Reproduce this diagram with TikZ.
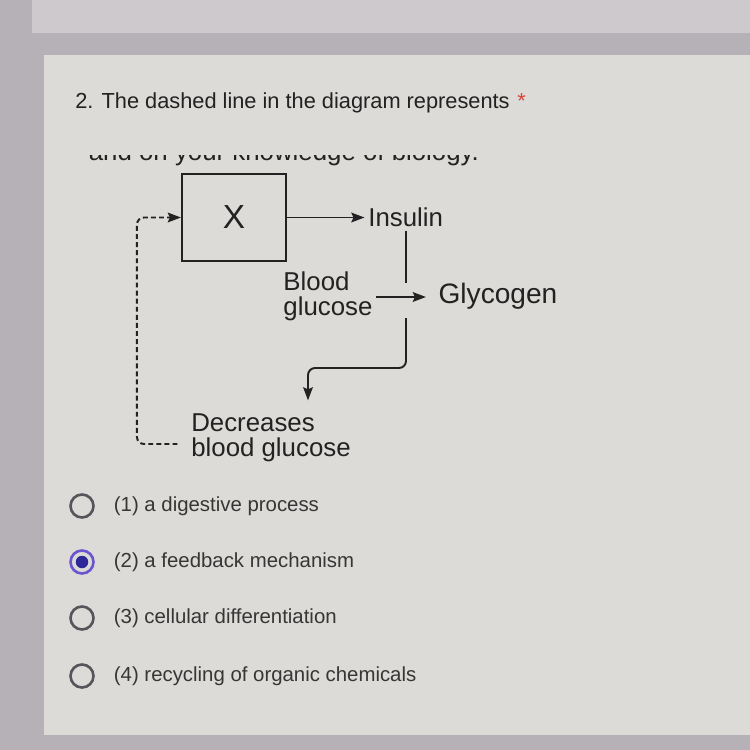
\documentclass[tikz,border=0pt]{standalone}
\usepackage{fontspec}
\setmainfont{Liberation Sans}
\usetikzlibrary{arrows.meta,positioning,calc}

\definecolor{screen}{HTML}{B6B1B7}
\definecolor{topcard}{HTML}{CDC9CC}
\definecolor{card}{HTML}{DCDBD8}
\definecolor{ink}{HTML}{222222}
\definecolor{optink}{HTML}{363636}
\definecolor{reqred}{HTML}{D8433A}
\definecolor{radiogray}{HTML}{56555A}
\definecolor{radioring}{HTML}{6B55CF}
\definecolor{radiodot}{HTML}{2E2899}

\begin{document}
\begin{tikzpicture}[x=0.02cm, y=-0.02cm,
    % Text styles
    title/.style={anchor=base west, inner sep=0pt, text=ink,
                  font=\fontsize{12.4}{14}\selectfont},
    required/.style={anchor=north west, inner sep=0pt, text=reqred,
                     font=\fontsize{12.4}{14}\selectfont},
    term/.style={inner sep=2pt, text=ink, align=left,
                 font=\fontsize{14.7}{14.2}\selectfont},
    option/.style={inner sep=1pt, text=optink,
                   font=\fontsize{11.6}{13}\selectfont},
    % Diagram styles
    gland/.style={rectangle, draw=ink, line width=1.2pt, minimum width=2.08cm,
                  minimum height=1.74cm, text=ink, font=\fontsize{19}{19}\selectfont},
    link/.style={line width=1.1pt, draw=ink},
    arrow/.style={link, -{Stealth[length=7.5pt, width=5.5pt, inset=1.2pt]}},
    feedback/.style={arrow, dash pattern=on 2.8pt off 1.8pt, rounded corners=4pt},
    % Radio buttons
    radio/.style={circle, draw=radiogray, line width=1.5pt, minimum size=0.46cm, inner sep=0pt},
    checked/.style={radio, draw=radioring},
    dot/.style={circle, fill=radiodot, minimum size=0.25cm, inner sep=0pt}
]

\useasboundingbox (0,0) rectangle (750,750);

% Screen and cards
\fill[screen] (0,0) rectangle (750,750);
\fill[topcard] (32,0) rectangle (750,33);
\fill[card] (44,55) rectangle (750,735);

% Question
\node[title] (question) at (75,109) {2. The dashed line in the diagram represents};
\node[required] (star) at ([xshift=4pt]question.north east) {*};

% Line of the image that is cut off
\begin{scope}
  \clip (80,155) rectangle (530,170);
  \node[term, anchor=base west] (hidden) at (85,160) {and on your knowledge of biology.};
\end{scope}

% 1. Gland X
\node[gland] (boxX) at (234,217.5) {X};

% 2. Insulin
\node[term, right=1.55cm of boxX] (insulin) {Insulin};

% 3. Blood glucose -> Glycogen
\node[term] (blood) at (328,296) {Blood\\glucose};
\node[term, font=\fontsize{16}{16}\selectfont] (glycogen) at (498,296) {Glycogen};

% 4. Result
\node[term] (decreases) at (271,438) {Decreases\\blood glucose};

% Junction points
\coordinate (junc) at (406,297);
\coordinate (elbow) at (308,368);
\coordinate (fbstart) at ($(decreases.west)+(-10,6)$);

% Main flow
\draw[arrow] (boxX.east) -- (boxX.east -| insulin.west);
\draw[link] (insulin.south -| junc) -- ($(junc)+(0,-14)$);
\draw[arrow, shorten >=5pt] (blood.east |- junc) -- (glycogen.west |- junc);
\draw[arrow, rounded corners=4pt, shorten >=5.5pt] ($(junc)+(0,21)$) |- (elbow)
    -- (elbow |- decreases.north);

% Feedback (dashed)
\draw[feedback] (fbstart) -| ($(boxX.west)+(-44,0)$) -- (boxX.west);

% Answers
\node[radio] (r1) at (82,506) {};
\node[option, right=0.34cm of r1] (o1) {(1) a digestive process};

\node[checked] (r2) at (82,562) {};
\node[dot] at (r2) {};
\node[option, right=0.34cm of r2] (o2) {(2) a feedback mechanism};

\node[radio] (r3) at (82,618) {};
\node[option, right=0.34cm of r3] (o3) {(3) cellular differentiation};

\node[radio] (r4) at (82,676) {};
\node[option, right=0.34cm of r4] (o4) {(4) recycling of organic chemicals};

\end{tikzpicture}
\end{document}
